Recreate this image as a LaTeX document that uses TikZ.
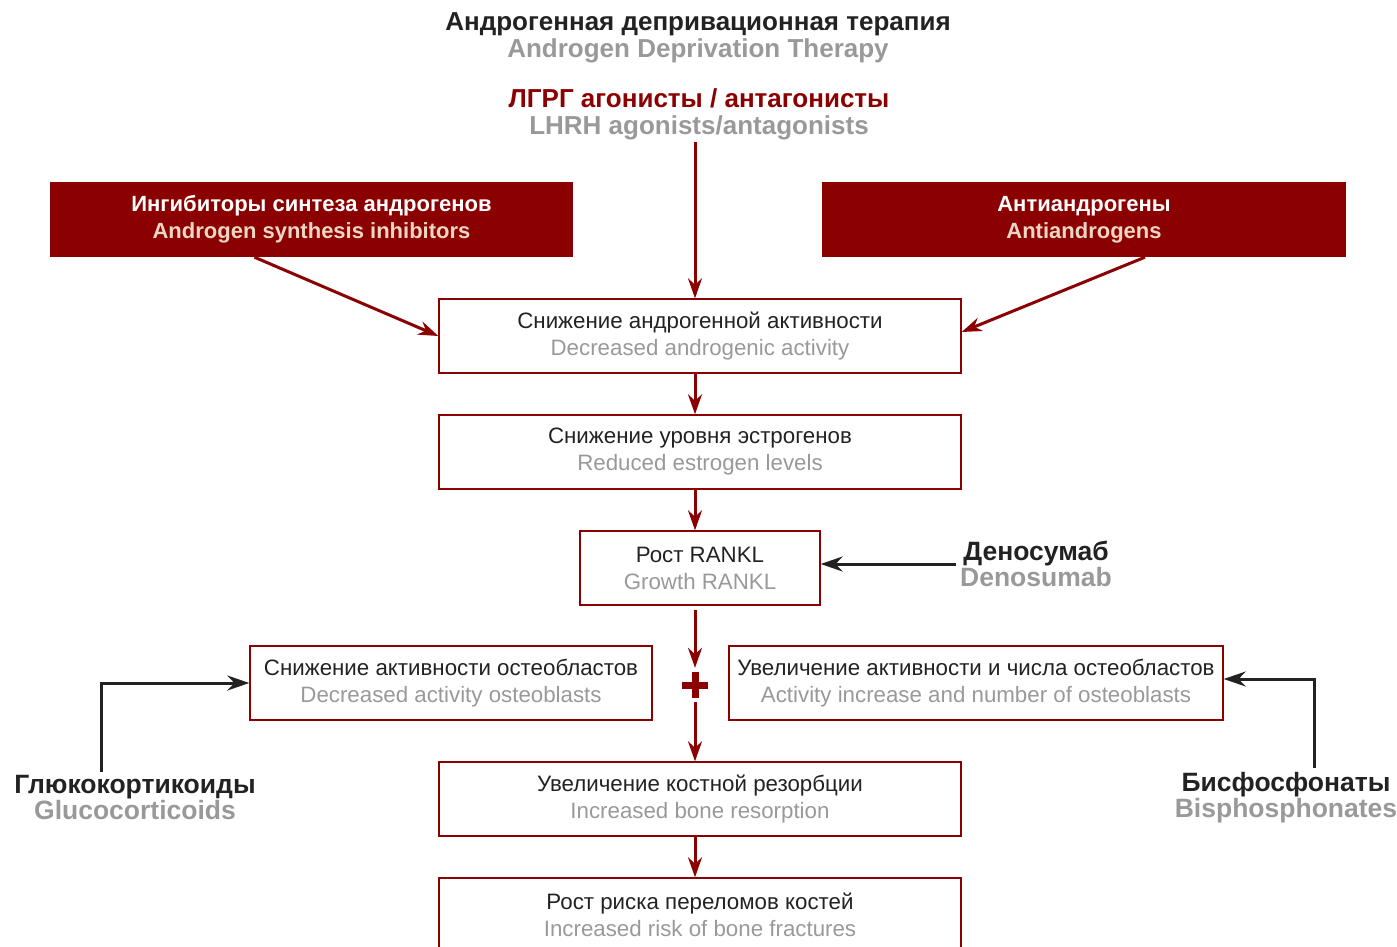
\documentclass[tikz,border=0pt]{standalone}
\usepackage{fontspec}
\setmainfont{Liberation Sans}
\usetikzlibrary{arrows.meta, positioning}
\definecolor{adtred}{RGB}{139, 0, 0}
\definecolor{engray}{RGB}{153, 153, 153}
\definecolor{creamtext}{RGB}{238, 214, 196}
\definecolor{ink}{RGB}{34, 34, 34}
\newcommand{\en}[1]{\textcolor{engray}{#1}}

\begin{document}
\begin{tikzpicture}[
  x=1pt, y=-1pt,
  stepbox/.style={draw=adtred, line width=1.4pt, minimum width=522pt, minimum height=74pt, inner sep=0pt, align=center, text=ink, font=\fontsize{22.3}{27}\selectfont},
  redbox/.style={fill=adtred, minimum width=523pt, minimum height=75pt, inner sep=0pt, align=center, text=white, font=\bfseries\fontsize{22}{27}\selectfont},
  drug/.style={align=center, text=ink, inner sep=4pt, font=\bfseries\fontsize{26.5}{26}\selectfont},
  redarrow/.style={-{Stealth[length=20pt, width=14pt]}, line width=3pt, adtred},
  blackarrow/.style={-{Stealth[length=22pt, width=15pt]}, line width=3pt, ink}
]
  \clip (0,0) rectangle (1397,947);

  \node[align=center, text=ink, font=\bfseries\fontsize{26}{27}\selectfont] (adt) at (698, 38) {
    Андрогенная депривационная терапия\\
    \en{Androgen Deprivation Therapy}
  };
  \node[align=center, text=adtred, inner sep=2pt, font=\bfseries\fontsize{26}{27}\selectfont] (lhrh) at (699, 114) {
    ЛГРГ агонисты / антагонисты\\
    \en{LHRH agonists/antagonists}
  };

  \node[redbox] (synth) at (311.5, 219.5) {
    Ингибиторы синтеза андрогенов\\
    \textcolor{creamtext}{Androgen synthesis inhibitors}
  };
  \node[redbox, minimum width=524pt] (anti) at (1084, 219.5) {
    Антиандрогены\\
    \textcolor{creamtext}{Antiandrogens}
  };

  \node[stepbox] (decr) at (700, 336) {
    Снижение андрогенной активности\\
    \en{Decreased androgenic activity}
  };
  \node[stepbox] (estr) at (700, 452) {
    Снижение уровня эстрогенов\\
    \en{Reduced estrogen levels}
  };
  \node[stepbox, minimum width=240pt] (rankl) at (700, 568) {
    Рост RANKL\\
    \en{Growth RANKL}
  };
  \node[stepbox, minimum width=402pt] (osteob) at (451, 683) {
    Снижение активности остеобластов\\
    \en{Decreased activity osteoblasts}
  };
  \node[stepbox, minimum width=494pt] (osteoc) at (976, 683) {
    Увеличение активности и числа остеобластов\\
    \en{Activity increase and number of osteoblasts}
  };
  \node[stepbox] (resorp) at (700, 799) {
    Увеличение костной резорбции\\
    \en{Increased bone resorption}
  };
  \node[stepbox] (fract) at (700, 915) {
    Рост риска переломов костей\\
    \en{Increased risk of bone fractures}
  };

  \node[minimum size=26pt, inner sep=0pt] (plus) at (695, 685) {};
  \draw[line width=7pt, adtred] (plus.north) -- (plus.south) (plus.west) -- (plus.east);

  \node[drug] (deno) at (1036, 564) {
    Деносумаб\\
    \en{Denosumab}
  };
  \node[drug] (gluco) at (135, 798) {
    Глюкокортикоиды\\
    \en{Glucocorticoids}
  };
  \node[drug] (bisph) at (1286, 798) {
    Бисфосфонаты\\
    \en{Bisphosphonates}
  };

  \draw[redarrow] ([xshift=-4pt]lhrh.south) -- ([xshift=-5pt]decr.north);
  \draw[redarrow] ([xshift=-57pt]synth.south) -- (decr.west);
  \draw[redarrow] ([xshift=61pt]anti.south) -- ([yshift=4pt]decr.east);
  \draw[redarrow] ([xshift=-5pt]decr.south) -- ([xshift=-5pt]estr.north);
  \draw[redarrow] ([xshift=-5pt]estr.south) -- ([xshift=-5pt]rankl.north);
  \draw[redarrow] ([yshift=-4pt, xshift=-5pt]rankl.south) -- ([yshift=4pt]plus.north);
  \draw[redarrow] ([yshift=-4pt]plus.south) -- ([xshift=-5pt]resorp.north);
  \draw[redarrow] ([xshift=-5pt]resorp.south) -- ([xshift=-5pt]fract.north);

  \draw[blackarrow] (deno.west) -- (rankl.east |- deno.west);
  \draw[blackarrow] ([xshift=-34pt]gluco.north) |- (osteob.west);
  \draw[blackarrow] ([xshift=28pt]bisph.north) |- ([yshift=4pt]osteoc.east);
\end{tikzpicture}
\end{document}
